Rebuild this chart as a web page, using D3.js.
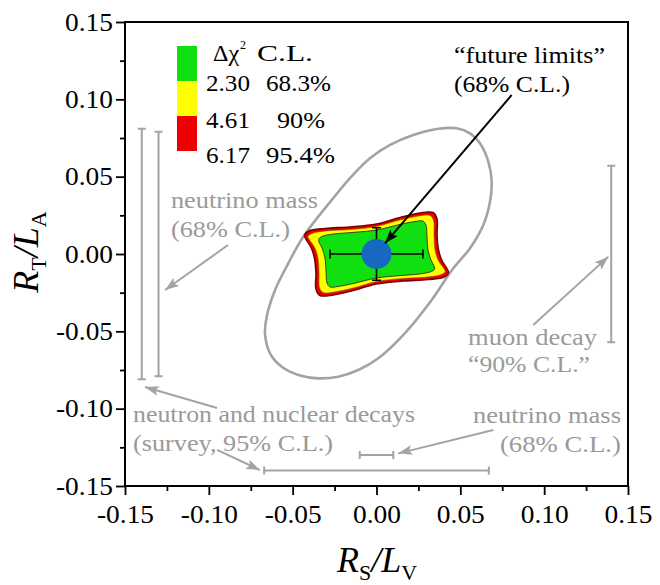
<!DOCTYPE html>
<html>
<head>
<meta charset="utf-8">
<script src="https://cdn.jsdelivr.net/npm/d3@7"></script>
<style>
  html, body { margin: 0; padding: 0; background: #fff; }
  svg { display: block; font-family: "Liberation Serif", "Times New Roman", serif; }
</style>
</head>
<body>
<svg id="chart" width="660" height="585"></svg>
<script>
// ---- axis ticks ----
const majorTicks = [-0.15, -0.10, -0.05, 0, 0.05, 0.10, 0.15];
const minorTicks = [-0.125, -0.075, -0.025, 0.025, 0.075, 0.125];

// ---- legend ----
const legendDeltaChi2 = ["2.30", "4.61", "6.17"];
const legendCL = ["68.3%", "90%", "95.4%"];
const legendColors = ["#10e010", "#ffff00", "#ee0000"];

// ---- allowed regions in the (R_S/L_V, R_T/L_A) plane ----
const contour95 = [
  [-0.0429, 0.0120], [-0.0403, 0.0149], [-0.0307, 0.0165], [-0.0158, 0.0175], [0.0000, 0.0194],
  [0.0140, 0.0236], [0.0259, 0.0265], [0.0337, 0.0268], [0.0361, 0.0226], [0.0361, 0.0123],
  [0.0370, 0.0026], [0.0391, -0.0045], [0.0420, -0.0094], [0.0429, -0.0120], [0.0403, -0.0149],
  [0.0307, -0.0165], [0.0158, -0.0175], [0.0000, -0.0194], [-0.0140, -0.0236], [-0.0259, -0.0265],
  [-0.0337, -0.0268], [-0.0361, -0.0226], [-0.0361, -0.0123], [-0.0370, -0.0026], [-0.0391, 0.0045],
  [-0.0420, 0.0094]
];
const contour90 = [
  [-0.0409, 0.0113], [-0.0385, 0.0133], [-0.0301, 0.0149], [-0.0158, 0.0158], [0.0000, 0.0178],
  [0.0140, 0.0220], [0.0253, 0.0246], [0.0319, 0.0249], [0.0340, 0.0217], [0.0343, 0.0123],
  [0.0349, 0.0026], [0.0370, -0.0045], [0.0397, -0.0087], [0.0409, -0.0113], [0.0385, -0.0133],
  [0.0301, -0.0149], [0.0158, -0.0158], [0.0000, -0.0178], [-0.0140, -0.0220], [-0.0253, -0.0246],
  [-0.0319, -0.0249], [-0.0340, -0.0217], [-0.0343, -0.0123], [-0.0349, -0.0026], [-0.0370, 0.0045],
  [-0.0397, 0.0087]
];
const contour68 = [
  [-0.0343, 0.0100], [-0.0319, 0.0116], [-0.0259, 0.0129], [-0.0146, 0.0139], [0.0000, 0.0155],
  [0.0140, 0.0191], [0.0230, 0.0210], [0.0277, 0.0213], [0.0295, 0.0187], [0.0301, 0.0110],
  [0.0307, 0.0026], [0.0325, -0.0039], [0.0343, -0.0078], [0.0346, -0.0100], [0.0319, -0.0116],
  [0.0259, -0.0129], [0.0146, -0.0139], [0.0000, -0.0155], [-0.0140, -0.0191], [-0.0230, -0.0210],
  [-0.0277, -0.0213], [-0.0295, -0.0187], [-0.0301, -0.0110], [-0.0307, -0.0026], [-0.0325, 0.0039],
  [-0.0343, 0.0078]
];

// ---- combined present-limits ellipse ----
const ellipsePts = [
  [0.0478, 0.0813], [0.0558, 0.0780], [0.0617, 0.0716], [0.0667, 0.0597], [0.0687, 0.0467],
  [0.0677, 0.0338], [0.0637, 0.0187], [0.0558, 0.0037], [0.0458, -0.0092], [0.0329, -0.0297],
  [0.0170, -0.0511], [0.0011, -0.0674], [-0.0109, -0.0750], [-0.0228, -0.0793], [-0.0347, -0.0804],
  [-0.0466, -0.0782], [-0.0565, -0.0729], [-0.0635, -0.0642], [-0.0665, -0.0513], [-0.0655, -0.0405],
  [-0.0605, -0.0233], [-0.0526, -0.0060], [-0.0437, 0.0112], [-0.0267, 0.0349], [-0.0158, 0.0491],
  [-0.0039, 0.0619], [0.0081, 0.0705], [0.0219, 0.0769], [0.0359, 0.0808]
];

// ---- "future limits" point with 68% C.L. errors ----
const futurePoint = [0, 0];
const futureErrX = 0.0277;
const futureErrY = 0.017;

// ---- individual present limits ----
const vBarX = [-0.14, -0.13, 0.14];
const vBarHalf = [0.081, 0.079, 0.057];
const hBarY = [-0.14, -0.130];
const hBarHalf = [0.067, 0.010];

// ---- annotation arrows: [fromX, fromY, toX, toY] ----
const grayArrows = [
  [-0.0886, 0.0058, -0.1261, -0.0233],
  [-0.0951, -0.0996, -0.1381, -0.0860],
  [-0.0951, -0.1267, -0.0695, -0.1397],
  [0.0935, -0.0459, 0.1383, -0.0017],
  [0.0697, -0.1138, 0.0130, -0.1289]
];
const blackArrow = [0.0806, 0.1028, 0.0051, 0.0069];

// ---- annotation texts: [x, y, text, anchor, width] ----
const grayNotes = [
  [-0.1226, 0.0297, "neutrino mass", "start", 147],
  [-0.1226, 0.0110, "(68% C.L.)", "start", 119],
  [-0.1452, -0.1084, "neutron and nuclear decays", "start", 282],
  [-0.1452, -0.1272, "(survey, 95% C.L.)", "start", 200],
  [0.0546, -0.0588, "muon decay", "start", 129],
  [0.0546, -0.0761, "\u201C90% C.L.\u201D", "start", 122],
  [0.1458, -0.1091, "neutrino mass", "end", 148],
  [0.1458, -0.1278, "(68% C.L.)", "end", 121]
];
const blackNotes = [
  [0.0462, 0.1235, "\u201Cfuture limits\u201D", "start", 151],
  [0.0462, 0.1047, "(68% C.L.)", "start", 116]
];

// ================= drawing =================
const svg = d3.select("#chart");
const SERIF = "'Liberation Serif', 'Times New Roman', serif";
const plot = { left: 125, right: 628, top: 22, bottom: 486 };
const x = d3.scaleLinear().domain([-0.15, 0.15]).range([plot.left, plot.right]);
const y = d3.scaleLinear().domain([-0.15, 0.15]).range([plot.bottom, plot.top]);

const GRAY = "#a3a3a3";
const GRAY_TEXT = "#9a9a9a";

const defs = svg.append("defs");
function arrowMarker(id, color) {
  defs.append("marker")
    .attr("id", id)
    .attr("viewBox", "0 0 14 10")
    .attr("refX", 14).attr("refY", 5)
    .attr("markerWidth", 14).attr("markerHeight", 10)
    .attr("markerUnits", "userSpaceOnUse")
    .attr("orient", "auto")
    .append("path")
    .attr("d", "M0,0 L14,5 L0,10 L3,5 Z")
    .attr("fill", color);
}
arrowMarker("headGray", GRAY);
arrowMarker("headBlack", "#000");

const lineClosed = d3.line()
  .x(d => x(d[0])).y(d => y(d[1]))
  .curve(d3.curveCatmullRomClosed.alpha(0.5));

// present-limits ellipse
svg.append("path")
  .attr("d", lineClosed(ellipsePts))
  .attr("fill", "none")
  .attr("stroke", GRAY)
  .attr("stroke-width", 2.6);

// individual limits as capped bars
const cap = 4;
const bars = svg.append("g").attr("stroke", GRAY).attr("stroke-width", 2).attr("fill", "none");
vBarX.forEach((vx, i) => {
  const px = x(vx), y0 = y(-vBarHalf[i]), y1 = y(vBarHalf[i]);
  bars.append("path")
    .attr("d", `M${px},${y0}V${y1}M${px - cap},${y0}H${px + cap}M${px - cap},${y1}H${px + cap}`);
});
hBarY.forEach((hy, i) => {
  const py = y(hy), x0 = x(-hBarHalf[i]), x1 = x(hBarHalf[i]);
  bars.append("path")
    .attr("d", `M${x0},${py}H${x1}M${x0},${py - cap}V${py + cap}M${x1},${py - cap}V${py + cap}`);
});

// confidence regions
svg.append("path").attr("d", lineClosed(contour95))
  .attr("fill", legendColors[2]).attr("stroke", "#7a0000").attr("stroke-width", 1.6);
svg.append("path").attr("d", lineClosed(contour90))
  .attr("fill", legendColors[1]).attr("stroke", "#8a5a00").attr("stroke-width", 0.6);
svg.append("path").attr("d", lineClosed(contour68))
  .attr("fill", legendColors[0]).attr("stroke", "#2f4a10").attr("stroke-width", 1);

// future-limits error cross
const cx = x(futurePoint[0]), cy = y(futurePoint[1]);
const ex0 = x(futurePoint[0] - futureErrX), ex1 = x(futurePoint[0] + futureErrX);
const ey0 = y(futurePoint[1] - futureErrY), ey1 = y(futurePoint[1] + futureErrY);
const c2 = 4.5;
svg.append("path")
  .attr("d", `M${ex0},${cy}H${ex1}M${ex0},${cy - c2}V${cy + c2}M${ex1},${cy - c2}V${cy + c2}` +
             `M${cx},${ey0}V${ey1}M${cx - c2},${ey0}H${cx + c2}M${cx - c2},${ey1}H${cx + c2}`)
  .attr("stroke", "#000").attr("stroke-width", 1.6).attr("fill", "none");
svg.append("circle")
  .attr("cx", cx).attr("cy", cy).attr("r", 15)
  .attr("fill", "#1668c0");

// arrows
svg.append("g").selectAll("line").data(grayArrows).join("line")
  .attr("x1", d => x(d[0])).attr("y1", d => y(d[1]))
  .attr("x2", d => x(d[2])).attr("y2", d => y(d[3]))
  .attr("stroke", GRAY).attr("stroke-width", 2)
  .attr("marker-end", "url(#headGray)");
svg.append("line")
  .attr("x1", x(blackArrow[0])).attr("y1", y(blackArrow[1]))
  .attr("x2", x(blackArrow[2])).attr("y2", y(blackArrow[3]))
  .attr("stroke", "#000").attr("stroke-width", 2)
  .attr("marker-end", "url(#headBlack)");

// annotation texts
function note(g, d, color, size) {
  g.append("text")
    .attr("x", x(d[0])).attr("y", y(d[1]))
    .attr("text-anchor", d[3])
    .attr("font-family", SERIF)
    .attr("font-size", size)
    .attr("fill", color)
    .attr("textLength", d[4])
    .attr("lengthAdjust", "spacingAndGlyphs")
    .text(d[2]);
}
const notes = svg.append("g");
grayNotes.forEach(d => note(notes, d, GRAY_TEXT, 24));
blackNotes.forEach(d => note(notes, d, "#000", 24));

// legend
const leg = svg.append("g").attr("font-family", SERIF);
const lgX = 177, lgY = 46, lgW = 20, lgH = 35;
legendColors.forEach((c, i) => {
  leg.append("rect").attr("x", lgX).attr("y", lgY + i * lgH)
    .attr("width", lgW).attr("height", lgH).attr("fill", c);
});
const hdr = leg.append("text").attr("x", 213).attr("y", 61).attr("font-size", 24);
hdr.append("tspan").text("\u0394\u03C7");
hdr.append("tspan").attr("font-size", 12).attr("dx", 1).attr("dy", -12).text("2");
leg.append("text").attr("x", 257).attr("y", 61).attr("font-size", 24)
  .attr("textLength", 56).attr("lengthAdjust", "spacingAndGlyphs").text("C.L.");
const rowBase = [91, 128, 163];
legendDeltaChi2.forEach((t, i) => {
  leg.append("text").attr("x", 206).attr("y", rowBase[i]).attr("font-size", 24)
    .attr("textLength", 44).attr("lengthAdjust", "spacingAndGlyphs").text(t);
});
const clX = [266, 277, 266], clW = [65, 48, 69];
legendCL.forEach((t, i) => {
  leg.append("text").attr("x", clX[i]).attr("y", rowBase[i]).attr("font-size", 24)
    .attr("textLength", clW[i]).attr("lengthAdjust", "spacingAndGlyphs").text(t);
});

// axes
const fmt = d => (d < -1e-9 ? "-" : "") + Math.abs(d).toFixed(2);
const labelWidth = d => (d < -1e-9 ? 57 : 48);

const xAxis = svg.append("g").attr("transform", `translate(0,${plot.bottom})`)
  .call(d3.axisBottom(x).tickValues(majorTicks).tickSize(9).tickPadding(10).tickFormat(fmt));
svg.append("g").attr("transform", `translate(0,${plot.bottom})`)
  .call(d3.axisBottom(x).tickValues(minorTicks).tickSize(5).tickFormat(""));
const yAxis = svg.append("g").attr("transform", `translate(${plot.left},0)`)
  .call(d3.axisLeft(y).tickValues(majorTicks).tickSize(9).tickPadding(3).tickFormat(fmt));
svg.append("g").attr("transform", `translate(${plot.left},0)`)
  .call(d3.axisLeft(y).tickValues(minorTicks).tickSize(5).tickFormat(""));

svg.selectAll(".domain").remove();
svg.selectAll(".tick line").attr("stroke", "#000").attr("stroke-width", 1.8);
[xAxis, yAxis].forEach(a => {
  a.attr("font-family", SERIF);
  a.selectAll("text")
    .attr("font-size", 25)
    .attr("fill", "#000")
    .attr("textLength", d => labelWidth(d))
    .attr("lengthAdjust", "spacingAndGlyphs");
});

// plot frame
svg.append("rect")
  .attr("x", plot.left).attr("y", plot.top)
  .attr("width", plot.right - plot.left).attr("height", plot.bottom - plot.top)
  .attr("fill", "none").attr("stroke", "#000").attr("stroke-width", 2);

// axis titles
const xt = svg.append("text").attr("x", 377).attr("y", 572)
  .attr("text-anchor", "middle").attr("font-family", SERIF).attr("font-size", 36);
xt.append("tspan").attr("font-style", "italic").text("R");
xt.append("tspan").attr("font-size", 22).attr("dy", 8).text("S");
xt.append("tspan").attr("font-style", "italic").attr("dy", -8).text("/L");
xt.append("tspan").attr("font-size", 22).attr("dy", 8).text("V");

const yt = svg.append("text").attr("transform", "translate(38,252) rotate(-90)")
  .attr("text-anchor", "middle").attr("font-family", SERIF).attr("font-size", 36);
yt.append("tspan").attr("font-style", "italic").text("R");
yt.append("tspan").attr("font-size", 22).attr("dy", 8).text("T");
yt.append("tspan").attr("font-style", "italic").attr("dy", -8).text("/L");
yt.append("tspan").attr("font-size", 22).attr("dy", 8).text("A");
</script>
</body>
</html>
